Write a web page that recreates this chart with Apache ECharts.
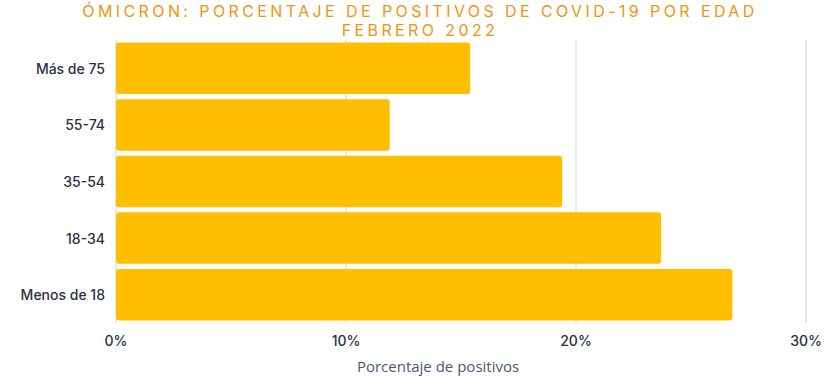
<!DOCTYPE html>
<html>
<head>
<meta charset="utf-8">
<script src="https://cdn.jsdelivr.net/npm/echarts@6/dist/echarts.min.js"></script>
<style>
    html, body { margin: 0; padding: 0; background: #fff; }
    #chart { width: 840px; height: 378px; }
    /* title letter spacing (svg renderer) */
    #chart text[fill="#f29410"] { letter-spacing: 3.4px; }
</style>
</head>
<body>
<div id="chart"></div>
<script>
var categories = ['Menos de 18', '18-34', '35-54', '55-74', 'Más de 75'];
var positivos = [26.8, 23.7, 19.4, 11.9, 15.4];
var xTicks = [0, 10, 20, 30];

var chart = echarts.init(document.getElementById('chart'), null, { renderer: 'svg' });

var option = {
    animation: false,
    title: {
        text: 'ÓMICRON: PORCENTAJE DE POSITIVOS DE COVID-19 POR EDAD\nFEBRERO 2022',
        left: 'center',
        top: -4,
        textStyle: {
            fontFamily: 'Inter',
            fontSize: 16,
            fontWeight: 'normal',
            color: '#f29410',
            lineHeight: 19
        }
    },
    grid: {
        left: 116,
        right: 34,
        top: 40,
        bottom: 50
    },
    xAxis: {
        type: 'value',
        min: xTicks[0],
        max: xTicks[xTicks.length - 1],
        interval: 10,
        name: 'Porcentaje de positivos',
        nameLocation: 'middle',
        nameGap: 35,
        nameTextStyle: {
            fontFamily: 'Open Sans',
            fontSize: 15,
            color: '#4a5a72',
            padding: [0, 46, 0, 0]
        },
        axisLine: { show: false },
        axisTick: { show: false },
        splitLine: { lineStyle: { color: '#e0e0e0', width: 1.5 } },
        axisLabel: {
            formatter: '{value}%',
            margin: 10,
            fontFamily: 'Inter',
            fontSize: 14,
            fontWeight: 500,
            color: '#2a3144'
        }
    },
    yAxis: {
        type: 'category',
        data: categories,
        axisLine: { show: false },
        axisTick: { show: false },
        axisLabel: {
            margin: 11,
            fontFamily: 'Inter',
            fontSize: 14,
            fontWeight: 500,
            color: '#2a3144'
        }
    },
    series: [
        {
            type: 'bar',
            data: positivos,
            barCategoryGap: '9%',
            itemStyle: {
                color: '#ffbf00',
                borderRadius: 3
            }
        }
    ]
};
chart.setOption(option);
</script>
</body>
</html>
